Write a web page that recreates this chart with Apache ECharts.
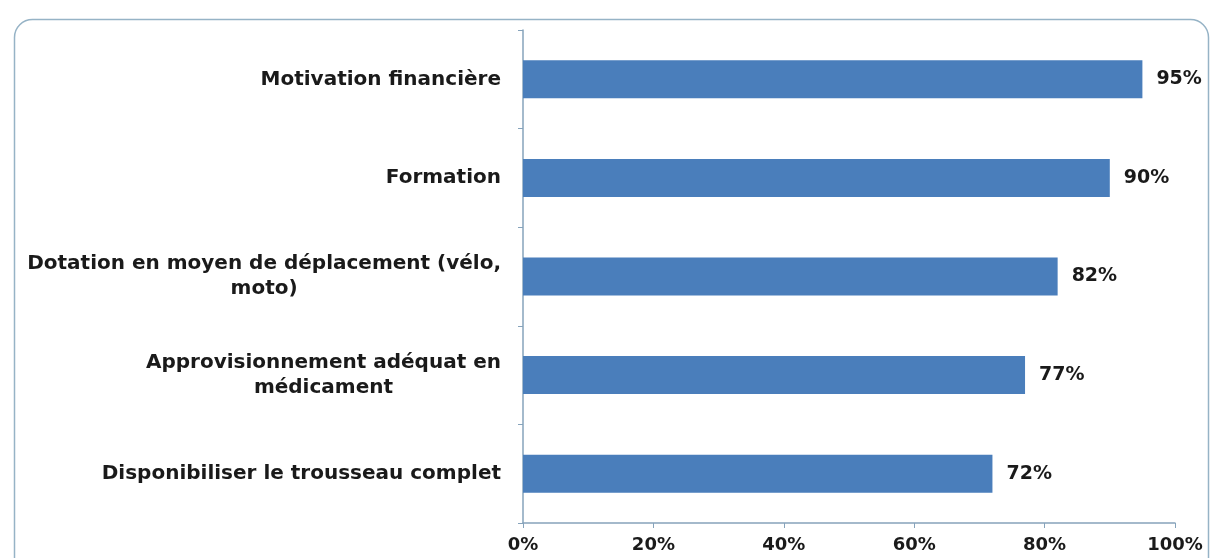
<!DOCTYPE html>
<html><head><meta charset="utf-8">
<script src="https://cdn.jsdelivr.net/npm/echarts@6/dist/echarts.min.js"></script>
<style>html,body{margin:0;padding:0;background:#fff}#c{width:1211px;height:558px}</style>
</head><body><div id="c"></div>
<script>
const categories = [
  ['Disponibiliser le trousseau complet'],
  ['Approvisionnement adéquat en', 'médicament'],
  ['Dotation en moyen de déplacement (vélo,', 'moto)'],
  ['Formation'],
  ['Motivation financière']
];
const values = [72, 77, 82, 90, 95];
const xTicks = [0, 20, 40, 60, 80, 100];

const FONT = '"DejaVu Sans", sans-serif';
const chart = echarts.init(document.getElementById('c'));
chart.setOption({
  animation: false,
  backgroundColor: '#fff',
  graphic: [{
    type: 'rect', left: 12, top: 17,
    shape: { width: 1194, height: 580, r: 18 },
    style: { fill: 'none', stroke: '#96b3c6', lineWidth: 1.5 }
  }],
  grid: { left: 523, right: 36, top: 30, bottom: 35, containLabel: false },
  xAxis: {
    type: 'value', min: xTicks[0], max: xTicks[xTicks.length - 1], interval: xTicks[1] - xTicks[0],
    axisLine: { show: true, lineStyle: { color: '#86a3bb', width: 1.5 } },
    axisTick: { show: true, length: 5, lineStyle: { color: '#86a3bb' } },
    splitLine: { show: false },
    axisLabel: { formatter: v => v + '%', color: '#1a1a1a', fontFamily: FONT, fontWeight: 'bold', fontSize: 18, margin: 13 }
  },
  yAxis: {
    type: 'category',
    data: categories.map(c => c.join('\n')),
    axisLine: { show: true, lineStyle: { color: '#86a3bb', width: 1.5 } },
    axisTick: { show: true, length: 5, inside: false, lineStyle: { color: '#86a3bb' } },
    axisLabel: {
      margin: 22, color: '#1a1a1a', fontFamily: FONT, fontWeight: 'bold', fontSize: 20, lineHeight: 25,
      formatter: v => v.split('\n').map(l => '{c|' + l + '}').join('\n'),
      rich: { c: { align: 'center', fontFamily: FONT, fontWeight: 'bold', fontSize: 20, color: '#1a1a1a', lineHeight: 25 } }
    }
  },
  series: [{
    type: 'bar', data: values, barWidth: 38,
    itemStyle: { color: '#4a7ebb' },
    label: { show: true, position: 'right', distance: 14, formatter: p => p.value + '%', color: '#1a1a1a', fontFamily: FONT, fontWeight: 'bold', fontSize: 19 }
  }]
});
</script></body></html>
